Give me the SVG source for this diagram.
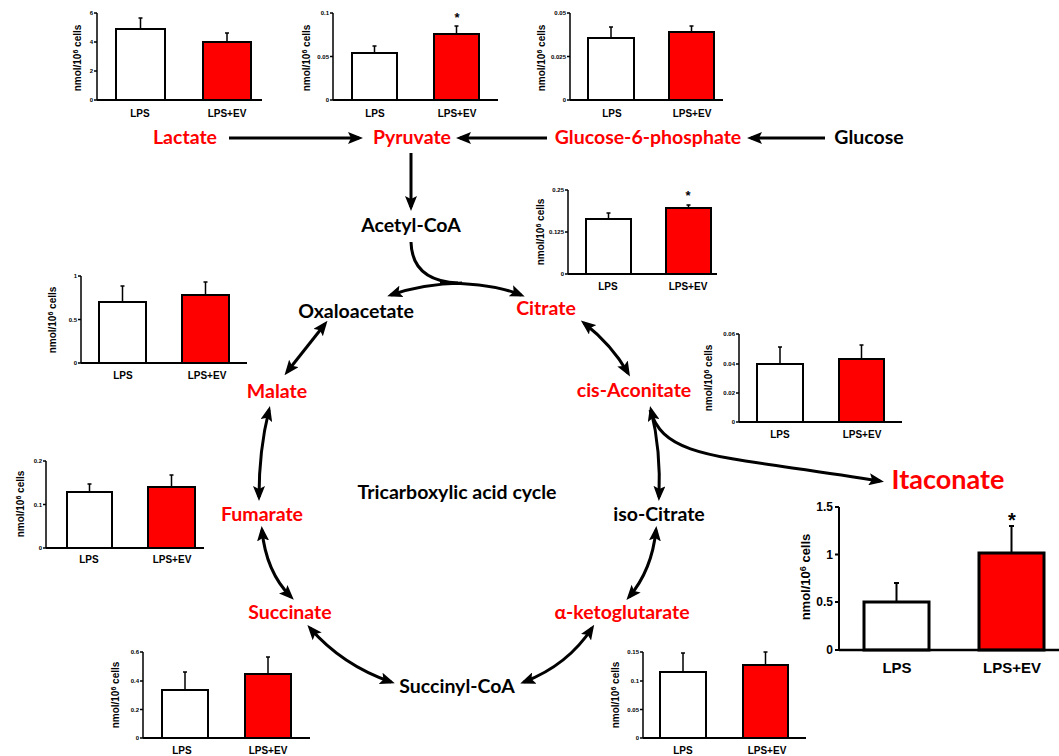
<svg xmlns="http://www.w3.org/2000/svg" width="1059" height="756" viewBox="0 0 1059 756">
<style>
.m{font-family:Lato,"Open Sans",sans-serif;font-weight:bold;font-size:19.5px;text-anchor:middle;fill:#000}
.r{fill:#ff0000}
.tk{font-family:"Liberation Sans",Arial,sans-serif;font-weight:bold;font-size:6px;text-anchor:end}
.cat{font-family:"Liberation Sans",Arial,sans-serif;font-weight:bold;font-size:10px;text-anchor:middle}
.yl{font-family:"Liberation Sans",Arial,sans-serif;font-weight:bold;font-size:10px;text-anchor:middle}
.ast{font-family:"Liberation Sans",Arial,sans-serif;font-weight:bold;font-size:13px;text-anchor:middle}
.bw{fill:#fff;stroke:#000;stroke-width:2}
.br{fill:#ff0000;stroke:#000;stroke-width:2}
.ax{stroke:#000;stroke-width:1.5;fill:none}
.bl{stroke:#000;stroke-width:2;fill:none}
.er{stroke:#000;stroke-width:1.5;fill:none}
.c{stroke:#000;stroke-width:3;fill:none}
.big .tk{font-size:12px}
.big .cat{font-size:15px}
.big .yl{font-size:13px}
.big .ax{stroke-width:2}
.big .bl{stroke-width:2.5}
.big .bw,.big .br{stroke-width:3}
.big .er{stroke-width:2}
</style>
<defs>
<marker id="ah" markerWidth="15" markerHeight="12" refX="11" refY="6" orient="auto-start-reverse" markerUnits="userSpaceOnUse">
<path d="M0,0 L15,6 L0,12 L3,6 z" fill="#000"/>
</marker>
</defs>

<g id="connectors">
<path class="c" d="M229,138 L359,138" marker-end="url(#ah)"/>
<path class="c" d="M547,138 L460,138" marker-end="url(#ah)"/>
<path class="c" d="M825,138 L751,138" marker-end="url(#ah)"/>
<path class="c" d="M411,153 L411,207" marker-end="url(#ah)"/>
<path class="c" d="M411,242 Q412,281 458,283"/>
<path class="c" d="M462,283 Q422,284 391,295" marker-end="url(#ah)"/>
<path class="c" d="M440,283 Q492,283 521,295" marker-end="url(#ah)"/>
<path class="c" d="M325,324 L287,372" marker-start="url(#ah)" marker-end="url(#ah)"/>
<path class="c" d="M269,410 Q259,450 259,497" marker-start="url(#ah)" marker-end="url(#ah)"/>
<path class="c" d="M262,530 Q266,572 291,597" marker-start="url(#ah)" marker-end="url(#ah)"/>
<path class="c" d="M310,628 Q342,665 391,682" marker-start="url(#ah)" marker-end="url(#ah)"/>
<path class="c" d="M524,682 Q568,665 592,628" marker-start="url(#ah)" marker-end="url(#ah)"/>
<path class="c" d="M629,597 Q652,570 656,530" marker-start="url(#ah)" marker-end="url(#ah)"/>
<path class="c" d="M659,497 Q661,450 651,410" marker-start="url(#ah)" marker-end="url(#ah)"/>
<path class="c" d="M628,373 Q612,345 584,323" marker-start="url(#ah)" marker-end="url(#ah)"/>
<path class="c" d="M650,410 C665,460 720,455 880,481" marker-end="url(#ah)"/>
</g>

<g id="n-lactate"><text class="m r" x="185" y="144">Lactate</text></g>
<g id="n-pyruvate"><text class="m r" x="412" y="144">Pyruvate</text></g>
<g id="n-g6p"><text class="m r" x="648" y="144">Glucose-6-phosphate</text></g>
<g id="n-glucose"><text class="m" x="869" y="144">Glucose</text></g>
<g id="n-acetylcoa"><text class="m" x="411" y="232">Acetyl-CoA</text></g>
<g id="n-oxaloacetate"><text class="m" x="356" y="318">Oxaloacetate</text></g>
<g id="n-citrate"><text class="m r" x="546" y="315">Citrate</text></g>
<g id="n-malate"><text class="m r" x="277" y="398">Malate</text></g>
<g id="n-cisaconitate"><text class="m r" x="634" y="397">cis-Aconitate</text></g>
<g id="n-fumarate"><text class="m r" x="262" y="521">Fumarate</text></g>
<g id="n-tca"><text class="m" x="457" y="499">Tricarboxylic acid cycle</text></g>
<g id="n-isocitrate"><text class="m" x="659" y="521">iso-Citrate</text></g>
<g id="n-succinate"><text class="m r" x="290" y="619">Succinate</text></g>
<g id="n-akg"><text class="m r" x="622" y="619">α-ketoglutarate</text></g>
<g id="n-succinylcoa"><text class="m" x="457" y="693">Succinyl-CoA</text></g>
<g id="n-itaconate"><text class="m r" x="948" y="489" style="font-size:27px">Itaconate</text></g>

<!-- Lactate chart -->
<g id="chart-lactate">
<path class="ax" d="M97,13 V100 M94,13 H97 M94,42 H97 M94,71 H97 M94,100 H97"/>
<text class="tk" x="93" y="15">6</text><text class="tk" x="93" y="44">4</text><text class="tk" x="93" y="73">2</text><text class="tk" x="93" y="102">0</text>
<path class="er" d="M140.5,29 V18 M138.5,18 H142.5 M227,42 V33 M225,33 H229"/>
<rect class="bw" x="116" y="29" width="49" height="71"/>
<rect class="br" x="203" y="42" width="48" height="58"/>
<path class="bl" d="M97,100 H262"/>
<text class="cat" x="140" y="117">LPS</text><text class="cat" x="227" y="117">LPS+EV</text>
<text class="yl" transform="translate(81,58) rotate(-90)">nmol/10<tspan dy="-3" font-size="7">6</tspan><tspan dy="3"> cells</tspan></text>
</g>

<!-- Pyruvate chart -->
<g id="chart-pyruvate">
<path class="ax" d="M333,13 V100 M330,13 H333 M330,56.5 H333 M330,100 H333"/>
<text class="tk" x="329" y="15">0.1</text><text class="tk" x="329" y="58.5">0.05</text><text class="tk" x="329" y="102">0</text>
<path class="er" d="M374.5,53 V46 M372.5,46 H376.5 M456.5,34 V26 M454.5,26 H458.5"/>
<rect class="bw" x="352" y="53" width="45" height="47"/>
<rect class="br" x="434" y="34" width="45" height="66"/>
<path class="bl" d="M333,100 H498"/>
<text class="ast" x="457" y="22">*</text>
<text class="cat" x="375" y="117">LPS</text><text class="cat" x="457" y="117">LPS+EV</text>
<text class="yl" transform="translate(310,58) rotate(-90)">nmol/10<tspan dy="-3" font-size="7">6</tspan><tspan dy="3"> cells</tspan></text>
</g>

<!-- G6P chart -->
<g id="chart-g6p">
<path class="ax" d="M570,13 V100 M567,13 H570 M567,56.5 H570 M567,100 H570"/>
<text class="tk" x="566" y="15">0.05</text><text class="tk" x="566" y="58.5">0.025</text><text class="tk" x="566" y="102">0</text>
<path class="er" d="M611,38 V27 M609,27 H613 M691.5,32 V26 M689.5,26 H693.5"/>
<rect class="bw" x="588" y="38" width="46" height="62"/>
<rect class="br" x="669" y="32" width="45" height="68"/>
<path class="bl" d="M570,100 H723"/>
<text class="cat" x="612" y="117">LPS</text><text class="cat" x="692" y="117">LPS+EV</text>
<text class="yl" transform="translate(545,58) rotate(-90)">nmol/10<tspan dy="-3" font-size="7">6</tspan><tspan dy="3"> cells</tspan></text>
</g>

<!-- Citrate chart -->
<g id="chart-citrate">
<path class="ax" d="M568,190 V274 M565,190 H568 M565,232 H568 M565,274 H568"/>
<text class="tk" x="564" y="192">0.25</text><text class="tk" x="564" y="234">0.125</text><text class="tk" x="564" y="276">0</text>
<path class="er" d="M608.5,219 V213 M606.5,213 H610.5 M688.5,208 V205 M686.5,205 H690.5"/>
<rect class="bw" x="586" y="219" width="45" height="55"/>
<rect class="br" x="666" y="208" width="45" height="66"/>
<path class="bl" d="M568,274 H717"/>
<text class="ast" x="688" y="200">*</text>
<text class="cat" x="608" y="290">LPS</text><text class="cat" x="688" y="290">LPS+EV</text>
<text class="yl" transform="translate(544,232) rotate(-90)">nmol/10<tspan dy="-3" font-size="7">6</tspan><tspan dy="3"> cells</tspan></text>
</g>

<!-- Malate/Oxaloacetate chart -->
<g id="chart-malate">
<path class="ax" d="M81,276 V363 M78,276 H81 M78,319.5 H81 M78,363 H81"/>
<text class="tk" x="77" y="278">1</text><text class="tk" x="77" y="321.5">0.5</text><text class="tk" x="77" y="365">0</text>
<path class="er" d="M122.5,302 V286 M120.5,286 H124.5 M205.5,295 V282 M203.5,282 H207.5"/>
<rect class="bw" x="99" y="302" width="47" height="61"/>
<rect class="br" x="182" y="295" width="47" height="68"/>
<path class="bl" d="M81,363 H247"/>
<text class="cat" x="123" y="379">LPS</text><text class="cat" x="207" y="379">LPS+EV</text>
<text class="yl" transform="translate(56,320) rotate(-90)">nmol/10<tspan dy="-3" font-size="7">6</tspan><tspan dy="3"> cells</tspan></text>
</g>

<!-- cis-Aconitate chart -->
<g id="chart-cisaconitate">
<path class="ax" d="M739,334 V422 M736,334 H739 M736,364 H739 M736,393 H739 M736,422 H739"/>
<text class="tk" x="735" y="336">0.06</text><text class="tk" x="735" y="366">0.04</text><text class="tk" x="735" y="395">0.02</text><text class="tk" x="735" y="424">0</text>
<path class="er" d="M780,364 V347 M778,347 H782 M861.5,359 V345 M859.5,345 H863.5"/>
<rect class="bw" x="757" y="364" width="46" height="58"/>
<rect class="br" x="839" y="359" width="45" height="63"/>
<path class="bl" d="M739,422 H902"/>
<text class="cat" x="780" y="438">LPS</text><text class="cat" x="862" y="438">LPS+EV</text>
<text class="yl" transform="translate(712,378) rotate(-90)">nmol/10<tspan dy="-3" font-size="7">6</tspan><tspan dy="3"> cells</tspan></text>
</g>

<!-- Fumarate chart -->
<g id="chart-fumarate">
<path class="ax" d="M46,461 V548 M43,461 H46 M43,504.5 H46 M43,548 H46"/>
<text class="tk" x="42" y="463">0.2</text><text class="tk" x="42" y="506.5">0.1</text><text class="tk" x="42" y="550">0</text>
<path class="er" d="M89.5,492 V484 M87.5,484 H91.5 M171.5,487 V475 M169.5,475 H173.5"/>
<rect class="bw" x="67" y="492" width="45" height="56"/>
<rect class="br" x="148" y="487" width="47" height="61"/>
<path class="bl" d="M46,548 H204"/>
<text class="cat" x="89" y="563">LPS</text><text class="cat" x="172" y="563">LPS+EV</text>
<text class="yl" transform="translate(24,504) rotate(-90)">nmol/10<tspan dy="-3" font-size="7">6</tspan><tspan dy="3"> cells</tspan></text>
</g>

<!-- Itaconate chart -->
<g id="chart-itaconate" class="big">
<path class="ax" d="M839,507 V650 M835,507 H839 M835,554.5 H839 M835,602 H839 M835,650 H839"/>
<text class="tk" x="833" y="511">1.5</text><text class="tk" x="833" y="558.5">1</text><text class="tk" x="833" y="606">0.5</text><text class="tk" x="833" y="654">0</text>
<path class="er" d="M896.5,602 V583 M894,583 H899 M1011.5,553 V526 M1009,526 H1014"/>
<rect class="bw" x="864" y="602" width="65" height="48"/>
<rect class="br" x="979" y="553" width="65" height="97"/>
<path class="bl" d="M839,650 H1059"/>
<text class="ast" x="1012" y="527" style="font-size:20px">*</text>
<text class="cat" x="897" y="673">LPS</text><text class="cat" x="1012" y="673">LPS+EV</text>
<text class="yl" transform="translate(810,577) rotate(-90)">nmol/10<tspan dy="-4" font-size="9">6</tspan><tspan dy="4"> cells</tspan></text>
</g>

<!-- Succinate chart -->
<g id="chart-succinate">
<path class="ax" d="M143,652 V738 M140,652 H143 M140,681 H143 M140,709.5 H143 M140,738 H143"/>
<text class="tk" x="139" y="654">0.6</text><text class="tk" x="139" y="683">0.4</text><text class="tk" x="139" y="711.5">0.2</text><text class="tk" x="139" y="740">0</text>
<path class="er" d="M185,690 V672 M183,672 H187 M268,674 V657 M266,657 H270"/>
<rect class="bw" x="162" y="690" width="46" height="48"/>
<rect class="br" x="245" y="674" width="46" height="64"/>
<path class="bl" d="M143,738 H310"/>
<text class="cat" x="182" y="754">LPS</text><text class="cat" x="268" y="754">LPS+EV</text>
<text class="yl" transform="translate(119,695) rotate(-90)">nmol/10<tspan dy="-3" font-size="7">6</tspan><tspan dy="3"> cells</tspan></text>
</g>

<!-- alpha-ketoglutarate chart -->
<g id="chart-akg">
<path class="ax" d="M643,652 V738 M640,652 H643 M640,681 H643 M640,709.5 H643 M640,738 H643"/>
<text class="tk" x="639" y="654">0.15</text><text class="tk" x="639" y="683">0.1</text><text class="tk" x="639" y="711.5">0.05</text><text class="tk" x="639" y="740">0</text>
<path class="er" d="M683,672 V653 M681,653 H685 M765.5,665 V652 M763.5,652 H767.5"/>
<rect class="bw" x="660" y="672" width="46" height="66"/>
<rect class="br" x="743" y="665" width="45" height="73"/>
<path class="bl" d="M643,738 H806"/>
<text class="cat" x="683" y="754">LPS</text><text class="cat" x="767" y="754">LPS+EV</text>
<text class="yl" transform="translate(619,695) rotate(-90)">nmol/10<tspan dy="-3" font-size="7">6</tspan><tspan dy="3"> cells</tspan></text>
</g>
</svg>
